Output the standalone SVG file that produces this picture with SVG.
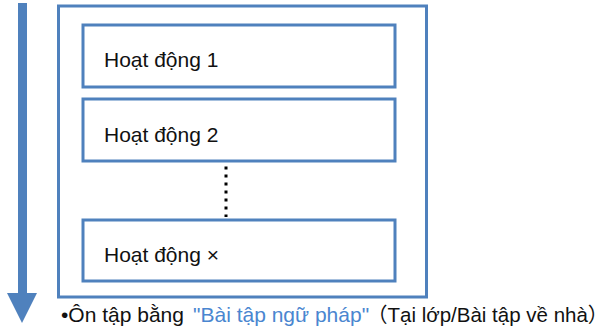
<svg xmlns="http://www.w3.org/2000/svg" width="611" height="336" viewBox="0 0 611 336">
<style>
.box{fill:#fff;stroke:#4F81BD;stroke-width:3}
.t{font-family:"Liberation Sans","Noto Sans CJK JP",sans-serif;fill:#111}
.lbl{font-size:21px}
.note{font-size:21px}
.blue{fill:#4A86D0}
.s3{font-size:20.5px}
</style>
<rect width="611" height="336" fill="#fff"/>
<g id="arrow">
<rect x="18" y="3" width="9" height="291" fill="#4F81BD"/>
<polygon points="7,293 37,293 22,323" fill="#4F81BD"/>
</g>
<g id="frame"><rect class="box" x="58.5" y="6" width="368" height="291"/></g>
<g id="act1"><rect class="box" x="83" y="25" width="312" height="62"/><text class="t lbl" x="104" y="67">Hoạt động 1</text></g>
<g id="act2"><rect class="box" x="83" y="99" width="312" height="62"/><text class="t lbl" x="104" y="141.5">Hoạt động 2</text></g>
<g id="actx"><rect class="box" x="83" y="220" width="312" height="61"/><text class="t lbl" x="104" y="261.5">Hoạt động ×</text></g>
<g id="connectors"><line x1="226" y1="166.5" x2="226" y2="217" stroke="#000" stroke-width="3" stroke-dasharray="3 5"/></g>
<g id="note"><text class="t note" y="322"><tspan x="61">•Ôn tập bằng </tspan><tspan x="193" class="blue">"Bài tập ngữ pháp"</tspan><tspan x="367" class="s3">（Tại lớp/Bài tập về nhà）</tspan></text></g>
</svg>
